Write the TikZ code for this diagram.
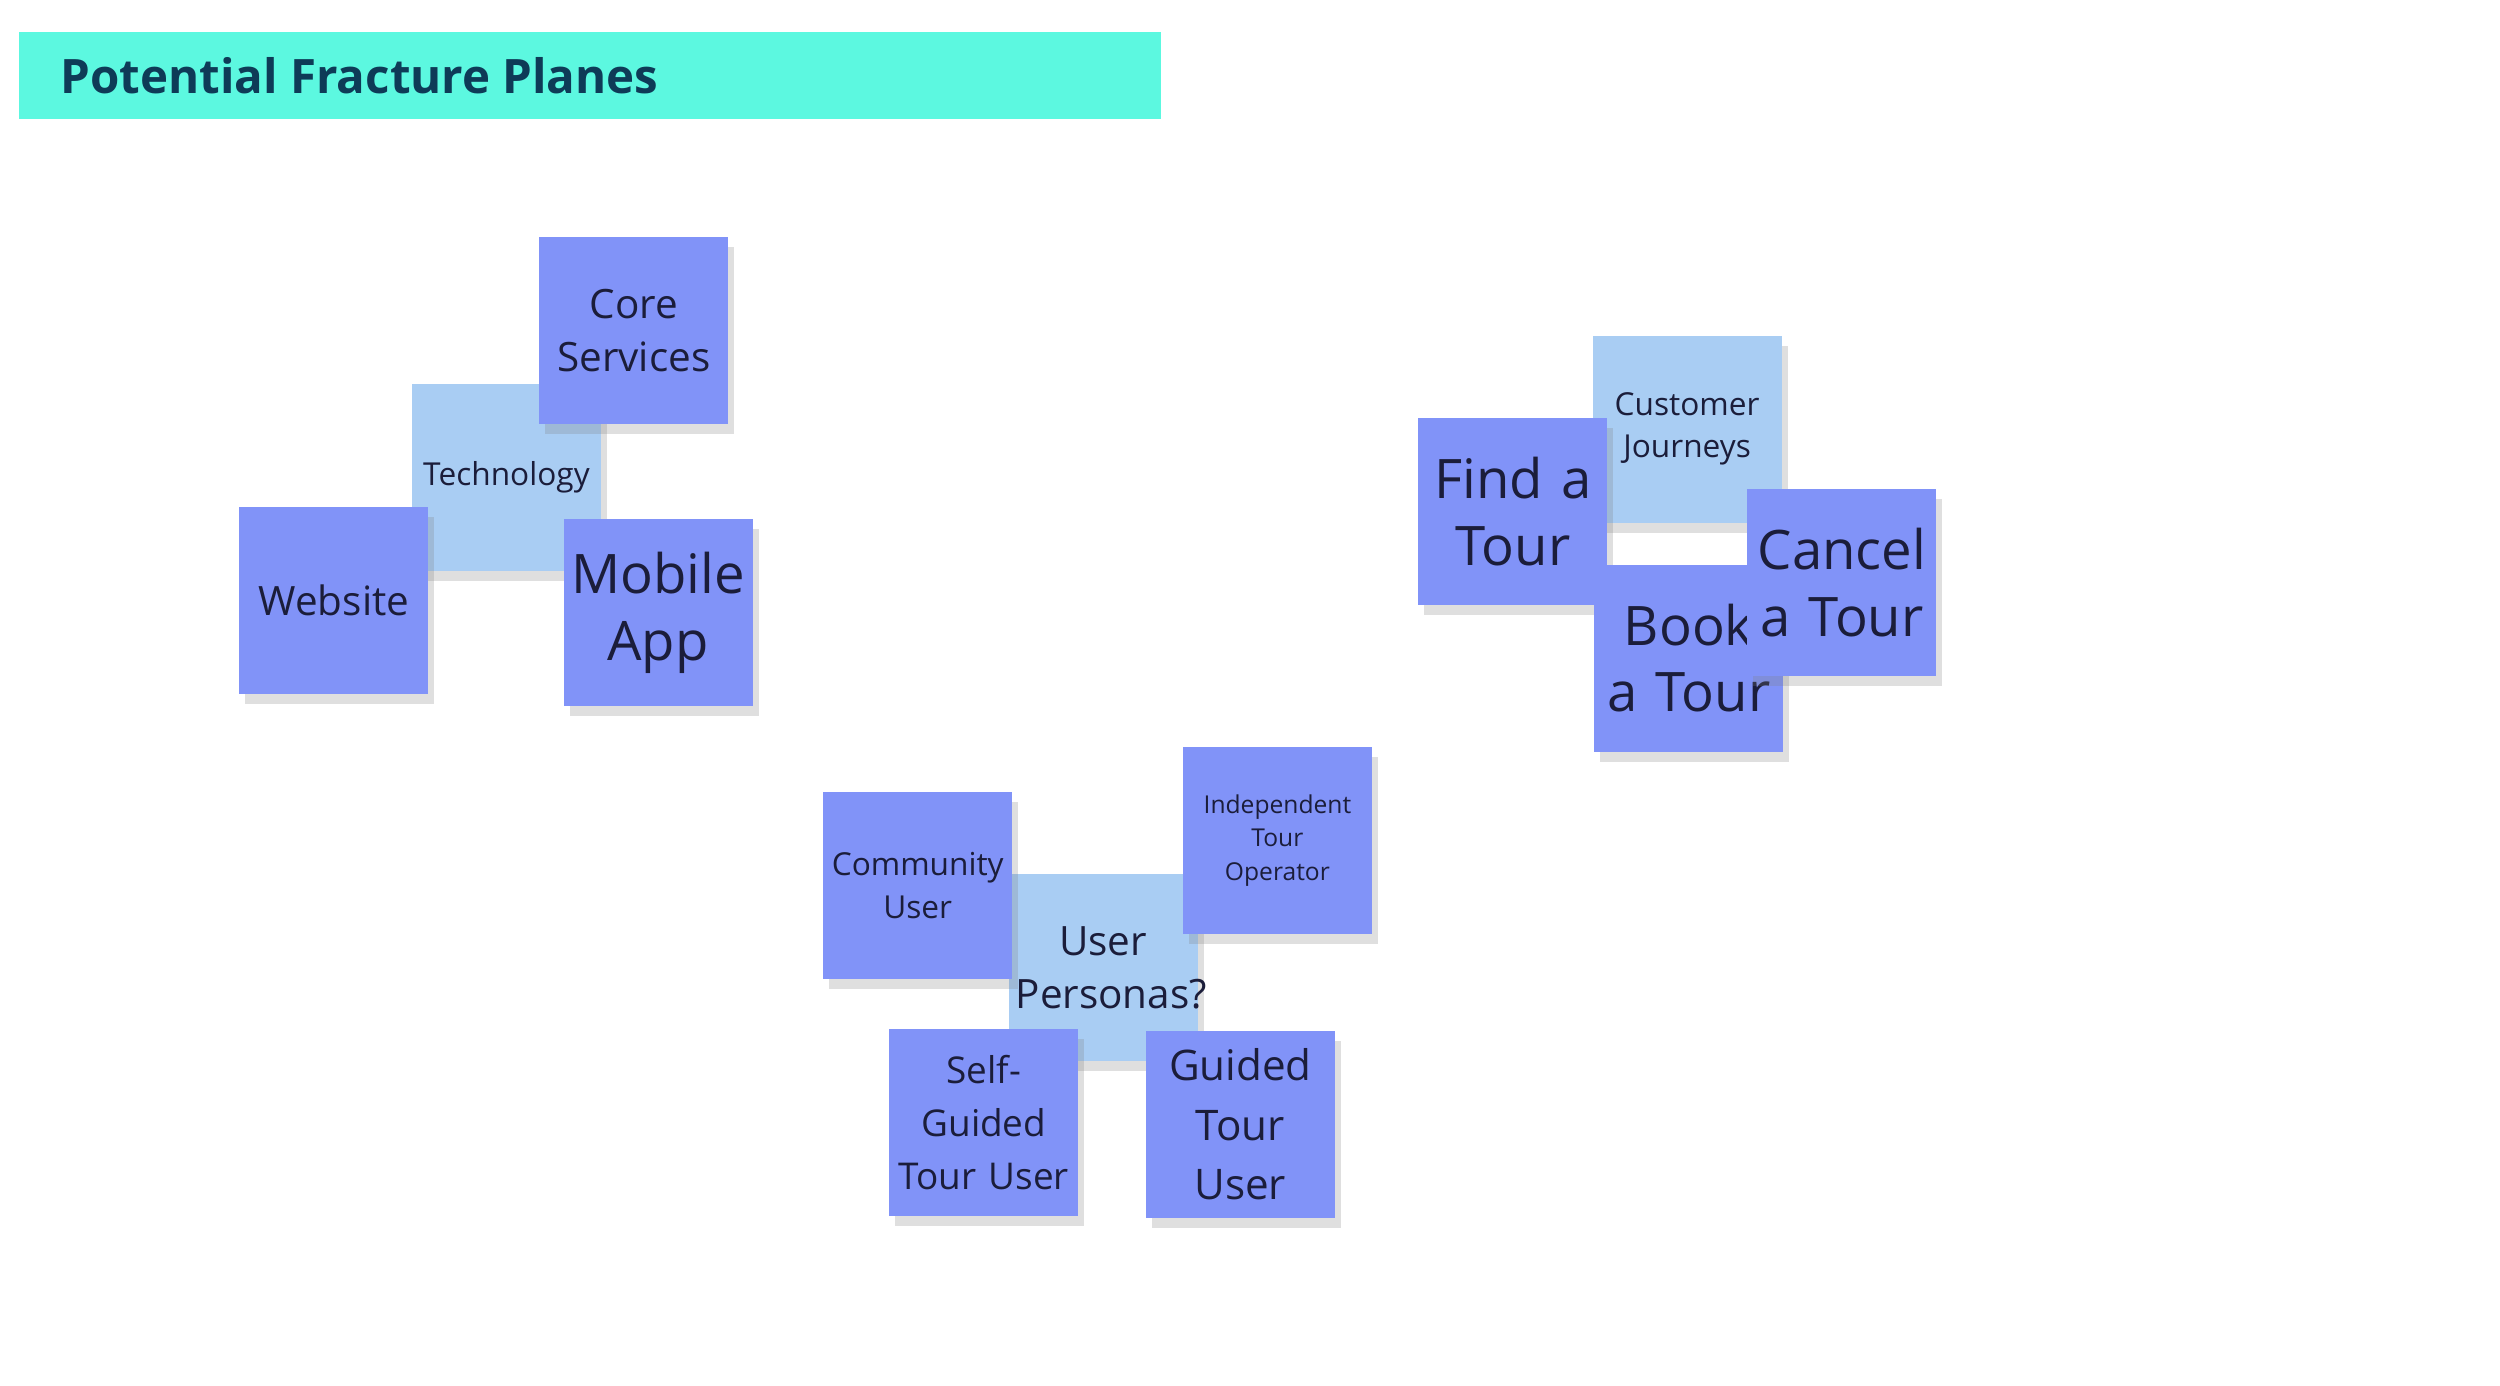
\documentclass[tikz,border=0pt]{standalone}
\usepackage{fontspec}
\setmainfont{Open Sans}
\usetikzlibrary{positioning,shadows}
\definecolor{notedark}{HTML}{8193F8}
\definecolor{notelight}{HTML}{A9CDF3}
\definecolor{titlebar}{HTML}{5CF8E0}
\definecolor{titletext}{HTML}{0E3B57}
\definecolor{inktext}{HTML}{1B1D3A}
\tikzset{
	note/.style   = {minimum width=1.87cm, minimum height=1.87cm, inner sep=2pt,
		text width=1.75cm, align=center, text=inktext,
		drop shadow={shadow xshift=0.06cm, shadow yshift=-0.1cm, opacity=0.25}},
	darknote/.style  = {note, fill=notedark},
	lightnote/.style = {note, fill=notelight},
	huge/.style   = {font=\fontsize{15.5}{19}\selectfont},
	big/.style    = {font=\fontsize{11.5}{15}\selectfont},
	small/.style  = {font=\fontsize{9}{12}\selectfont},
	tiny/.style   = {font=\fontsize{7}{9.5}\selectfont}
}
\begin{document}
\begin{tikzpicture}[x=0.016129cm, y=-0.016129cm]
	\useasboundingbox (0,0) rectangle (1550,859);
	% title bar
	\fill[titlebar] (12,20) rectangle (720,74);
	\node[anchor=west, text=titletext, font=\fontsize{13.5}{16}\selectfont\bfseries] (title) at (30,47) {Potential Fracture Planes};
	% technology cluster
	\node[lightnote, small] (tech) at (314,296) {Technology};
	\node[darknote, big] (core) at (393,205) {Core\\Services};
	\node[darknote, big] (web) at (207,372) {Website};
	\node[darknote, huge] (app) at (408,380) {Mobile\\App};
	% customer journeys cluster
	\node[lightnote, small] (journeys) at (1046,266) {Customer\\Journeys};
	\node[darknote, huge] (find) at (938,317) {Find a\\Tour};
	\node[darknote, huge] (book) at (1047,408) {Book\\a Tour};
	\node[darknote, huge] (cancel) at (1142,361) {Cancel\\a Tour};
	% user personas cluster
	\node[lightnote, big] (personas) at (684,600) {User\\Personas?};
	\node[darknote, small] (community) at (569,549) {Community\\User};
	\node[darknote, tiny] (operator) at (792,521) {Independent\\Tour\\Operator};
	\node[darknote, small, font=\fontsize{10.5}{15}\selectfont] (selfguided) at (610,696) {Self-\\Guided\\Tour User};
	\node[darknote, big, font=\fontsize{12}{17}\selectfont] (guided) at (769,697) {Guided\\Tour\\User};
\end{tikzpicture}
\end{document}
